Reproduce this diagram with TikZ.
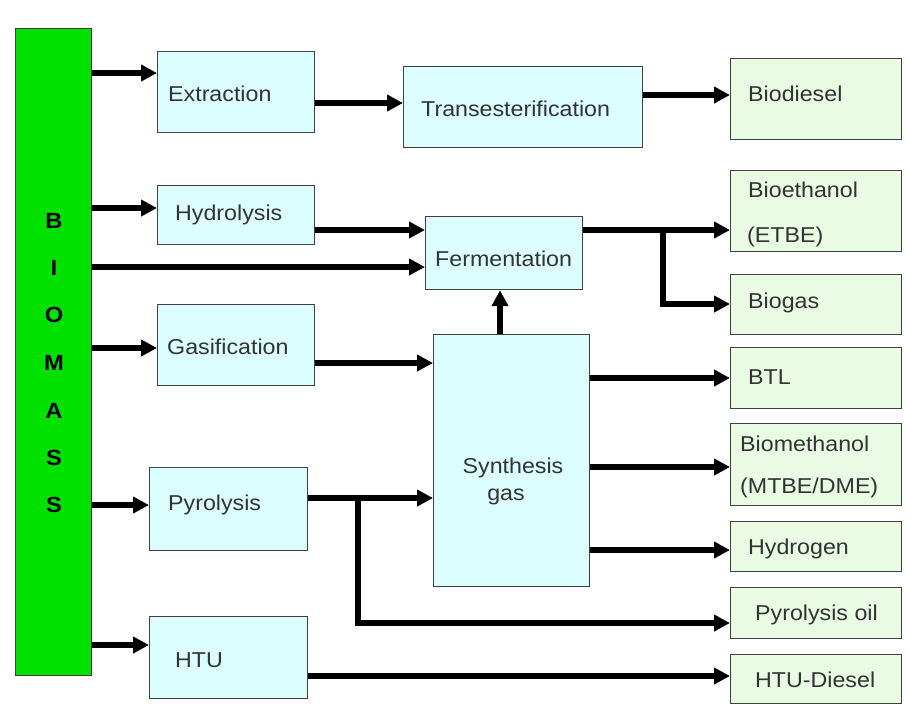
\documentclass[tikz,border=0pt]{standalone}
\usepackage{fontspec}
\setmainfont{Liberation Sans}[FakeStretch=1.08]
\usetikzlibrary{arrows.meta}
\definecolor{bgreen}{HTML}{00E100}
\definecolor{pcyan}{HTML}{DCFEFE}
\definecolor{pgreen}{HTML}{EAFBE4}
\definecolor{tgray}{HTML}{333333}
\definecolor{bline}{HTML}{404040}
\tikzset{
  box/.style={draw=bline, line width=1.2pt, inner sep=0pt, anchor=north west},
  proc/.style={box, fill=pcyan},
  prod/.style={box, fill=pgreen},
  lbl/.style={anchor=base west, inner sep=0pt, text=tgray, font=\fontsize{21.5}{24}\selectfont},
  lblc/.style={lbl, anchor=base},
  bletter/.style={inner sep=0pt, text=black, font=\bfseries\fontsize{22}{24}\selectfont},
  arr/.style={line width=5.2pt, line join=miter, -{Triangle[length=16pt,width=16pt]}},
}
\newcommand{\bx}[7]{\node[#2, minimum width=#5pt, minimum height=#6pt] (#1) at (#3,#4) {#7};}
\begin{document}
\begin{tikzpicture}[x=1pt,y=-1pt]
\useasboundingbox[fill=white] (0,0) rectangle (910,710);
% boxes
\bx{bio}{box, fill=bgreen}{15}{28}{76}{647}{}
\bx{ext}{proc}{157}{51}{157}{81}{}
\bx{tra}{proc}{403}{66}{239}{81}{}
\bx{bdi}{prod}{730}{58}{171}{81}{}
\bx{hyd}{proc}{157}{185}{157}{59}{}
\bx{fer}{proc}{425}{216}{157}{73}{}
\bx{bet}{prod}{730}{170}{171}{81}{}
\bx{bgs}{prod}{730}{274}{171}{60}{}
\bx{gas}{proc}{157}{304}{157}{81}{}
\bx{syn}{proc}{433}{334}{156}{252}{}
\bx{btl}{prod}{730}{347}{171}{61}{}
\bx{bme}{prod}{730}{423}{171}{82}{}
\bx{hyg}{prod}{730}{521}{171}{50}{}
\bx{pyr}{proc}{149}{467}{158}{83}{}
\bx{poi}{prod}{730}{587}{171}{51}{}
\bx{htu}{proc}{149}{616}{158}{82}{}
\bx{hds}{prod}{730}{654}{171}{49}{}
% biomass letters
\foreach \L/\Y [count=\i] in {B/221,I/268,O/315,M/363,A/411,S/458,S/505}
  \node[bletter] (let\i) at (54,\Y) {\L};
% labels
\node[lbl] (tExt) at (168,101) {Extraction};
\node[lbl] (tTra) at (421,116) {Transesterification};
\node[lbl] (tBdi) at (748,101) {Biodiesel};
\node[lbl] (tHyd) at (175,220) {Hydrolysis};
\node[lbl] (tFer) at (435,266) {Fermentation};
\node[lbl] (tBet1) at (748,197) {Bioethanol};
\node[lbl] (tBet2) at (747,242) {(ETBE)};
\node[lbl] (tBgs) at (748,308) {Biogas};
\node[lbl] (tGas) at (167,354) {Gasification};
\node[lblc] (tSyn1) at (513,473) {Synthesis};
\node[lblc] (tSyn2) at (506,500) {gas};
\node[lbl] (tBtl) at (748,384) {BTL};
\node[lbl] (tBme1) at (740,451) {Biomethanol};
\node[lbl] (tBme2) at (740,493) {(MTBE/DME)};
\node[lbl] (tHyg) at (748,554) {Hydrogen};
\node[lbl] (tPyr) at (168,510) {Pyrolysis};
\node[lbl] (tPoi) at (755,620) {Pyrolysis oil};
\node[lbl] (tHtu) at (175,667) {HTU};
\node[lbl] (tHds) at (755,687) {HTU-Diesel};
% junctions
\coordinate (j1) at (663,230);
\coordinate (j2) at (358,498);
% arrows
\draw[arr] (bio.east |- 0,73) -- (ext.west |- 0,73);
\draw[arr] (ext.east |- 0,103) -- (tra.west |- 0,103);
\draw[arr] (tra.east |- 0,95) -- (bdi.west |- 0,95);
\draw[arr] (bio.east |- 0,208) -- (hyd.west |- 0,208);
\draw[arr] (hyd.east |- 0,230) -- (fer.west |- 0,230);
\draw[arr] (bio.east |- 0,267) -- (fer.west |- 0,267);
\draw[arr] (fer.east |- 0,230) -- (bet.west |- 0,230);
\draw[arr] (j1) |- (bgs.west |- 0,304);
\draw[arr] (500,0 |- syn.north) -- (500,0 |- fer.south);
\draw[arr] (bio.east |- 0,348) -- (gas.west |- 0,348);
\draw[arr] (gas.east |- 0,363) -- (syn.west |- 0,363);
\draw[arr] (syn.east |- 0,378) -- (btl.west |- 0,378);
\draw[arr] (syn.east |- 0,467) -- (bme.west |- 0,467);
\draw[arr] (syn.east |- 0,550) -- (hyg.west |- 0,550);
\draw[arr] (bio.east |- 0,505) -- (pyr.west |- 0,505);
\draw[arr] (pyr.east |- 0,498) -- (syn.west |- 0,498);
\draw[arr] (j2) |- (poi.west |- 0,623);
\draw[arr] (bio.east |- 0,645) -- (htu.west |- 0,645);
\draw[arr] (htu.east |- 0,676) -- (hds.west |- 0,676);
\end{tikzpicture}
\end{document}
